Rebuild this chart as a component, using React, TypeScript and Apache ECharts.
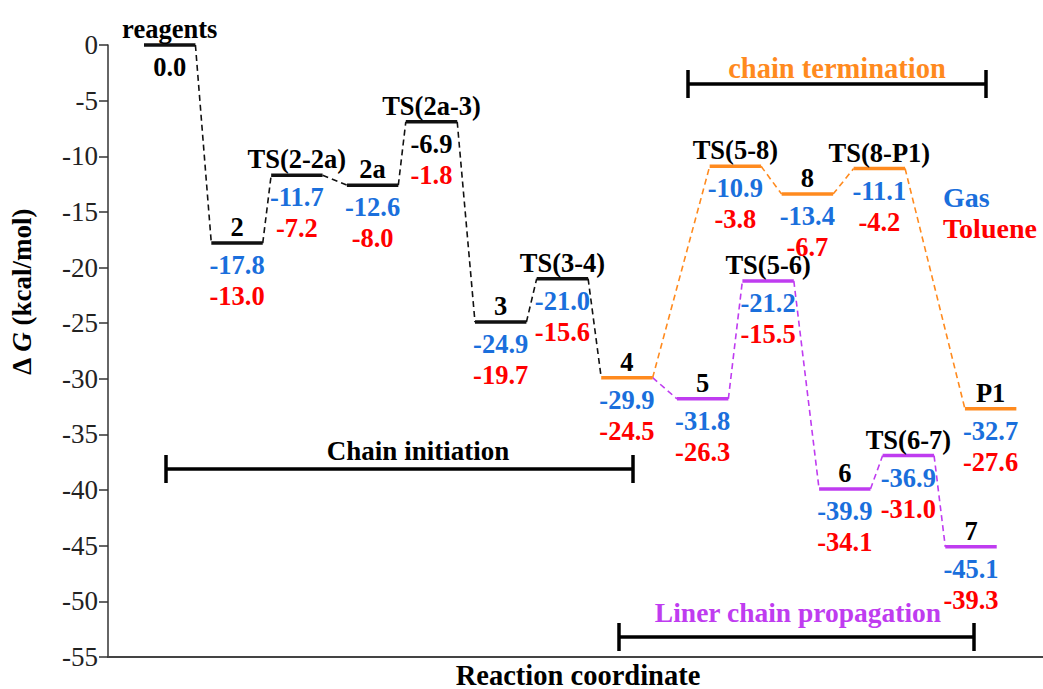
import React, { useEffect, useRef } from 'react';
import * as echarts from 'echarts';

// ---- data ----
const stateNames = ['reagents', '2', 'TS(2-2a)', '2a', 'TS(2a-3)', '3', 'TS(3-4)', '4', '5', 'TS(5-8)', 'TS(5-6)', '8', '6', 'TS(8-P1)', 'TS(6-7)', '7', 'P1'];
const reactionCoord = [6.6, 13.8, 20.2, 28.3, 34.6, 42.0, 48.6, 55.5, 63.6, 67.1, 70.6, 74.8, 78.8, 82.5, 85.6, 92.3, 94.4];
const gasDG = [0.0, -17.8, -11.7, -12.6, -6.9, -24.9, -21.0, -29.9, -31.8, -10.9, -21.2, -13.4, -39.9, -11.1, -36.9, -45.1, -32.7];
const tolueneDG: (number | null)[] = [null, -13.0, -7.2, -8.0, -1.8, -19.7, -15.6, -24.5, -26.3, -3.8, -15.5, -6.7, -34.1, -4.2, -31.0, -39.3, -27.6];
const statePathway = ['init', 'init', 'init', 'init', 'init', 'init', 'init', 'term', 'prop', 'term', 'prop', 'term', 'prop', 'term', 'prop', 'prop', 'term'];
const edges: [string, string, string][] = [
  ['reagents', '2', 'init'], ['2', 'TS(2-2a)', 'init'], ['TS(2-2a)', '2a', 'init'], ['2a', 'TS(2a-3)', 'init'],
  ['TS(2a-3)', '3', 'init'], ['3', 'TS(3-4)', 'init'], ['TS(3-4)', '4', 'init'],
  ['4', 'TS(5-8)', 'term'], ['TS(5-8)', '8', 'term'], ['8', 'TS(8-P1)', 'term'], ['TS(8-P1)', 'P1', 'term'],
  ['4', '5', 'prop'], ['5', 'TS(5-6)', 'prop'], ['TS(5-6)', '6', 'prop'], ['6', 'TS(6-7)', 'prop'], ['TS(6-7)', '7', 'prop'],
];
const blackGasLabels = ['reagents', 'TS(2a-3)'];
const yTicks = { min: -55, max: 0, interval: 5 };

// ---- style ----
const FONT = 'Liberation Serif';
const COLORS: Record<string, string> = { init: '#111111', term: '#FF8A1E', prop: '#BF3CF0' };
const BLUE = '#1A6FDC';
const RED = '#FF0000';
const LEVEL_W = 5.5;
const FS = 26.5;

export default function App() {
  const ref = useRef<HTMLDivElement>(null);
  useEffect(() => {
    const chart = echarts.init(ref.current!, null, { renderer: 'svg' });
    const idx = (n: string) => stateNames.indexOf(n);
    const levelData = stateNames.map((_, i) => ({ value: [reactionCoord[i], gasDG[i], i] }));
    const edgeData = edges.map(([a, b, p]) => ({
      coords: [
        [reactionCoord[idx(a)] + LEVEL_W / 2, gasDG[idx(a)]],
        [reactionCoord[idx(b)] - LEVEL_W / 2, gasDG[idx(b)]],
      ],
      lineStyle: { color: COLORS[p] },
    }));

    const txt = (text: string, x: number, y: number, fill: string, align = 'center', size = FS) => ({
      type: 'text',
      x, y,
      style: {
        text, fill,
        fontFamily: FONT, fontSize: size, fontWeight: 'bold',
        align, verticalAlign: 'middle',
      },
    });
    const bracket = (x1: number, x2: number, y: number) => [
      { type: 'line', shape: { x1, y1: y, x2, y2: y }, style: { stroke: '#000', lineWidth: 3.5 } },
      { type: 'line', shape: { x1, y1: y - 14, x2: x1, y2: y + 14 }, style: { stroke: '#000', lineWidth: 3.5 } },
      { type: 'line', shape: { x1: x2, y1: y - 14, x2, y2: y + 14 }, style: { stroke: '#000', lineWidth: 3.5 } },
    ];

    chart.setOption({
      animation: false,
      grid: { left: 108, right: 0, top: 45, bottom: 32, containLabel: false },
      xAxis: {
        type: 'value', min: 0, max: 100,
        axisLine: { show: true, onZero: false, lineStyle: { color: '#444', width: 2 } },
        axisTick: { show: false }, axisLabel: { show: false }, splitLine: { show: false },
      },
      yAxis: {
        type: 'value', min: yTicks.min, max: yTicks.max, interval: yTicks.interval,
        axisLine: { show: true, lineStyle: { color: '#333', width: 1.5 } },
        axisTick: { show: true, inside: false, length: 9, lineStyle: { color: '#333', width: 1.5 } },
        axisLabel: { color: '#222', fontSize: 27, fontFamily: FONT, margin: 10 },
        splitLine: { show: false },
      },
      series: [
        {
          type: 'lines',
          coordinateSystem: 'cartesian2d',
          polyline: false,
          silent: true,
          lineStyle: { width: 1.6, type: [6, 4], opacity: 1 },
          data: edgeData,
          z: 1,
        },
        {
          type: 'custom',
          clip: false,
          z: 2,
          data: levelData,
          renderItem: (_params: any, api: any) => {
            const x = api.value(0);
            const e = api.value(1);
            const i = api.value(2);
            const p1 = api.coord([x - LEVEL_W / 2, e]);
            const p2 = api.coord([x + LEVEL_W / 2, e]);
            const cx = (p1[0] + p2[0]) / 2;
            const y = p1[1];
            const name = stateNames[i];
            const label = (text: string, tx: number, ty: number, fill: string) => ({
              type: 'text',
              x: tx, y: ty,
              style: {
                text, fill,
                fontFamily: FONT, fontSize: FS, fontWeight: 'bold',
                align: 'center', verticalAlign: 'middle',
              },
            });
            const children: any[] = [
              { type: 'line', shape: { x1: p1[0], y1: y, x2: p2[0], y2: y }, style: { stroke: COLORS[statePathway[i]], lineWidth: 3.5 } },
              label(name, cx, y - 16, '#000'),
              label(gasDG[i].toFixed(1), cx, y + 22, blackGasLabels.includes(name) ? '#000' : BLUE),
              ];
            const t = tolueneDG[i];
            if (t != null) children.push(label(t.toFixed(1), cx, y + 53, RED));
            return { type: 'group', children };
          },
        },
      ],
      graphic: [
        ...bracket(166, 633, 469),
        ...bracket(688, 986, 84),
        ...bracket(619, 974, 637),
        txt('Chain initiation', 418, 451, '#000', 'center', 27),
        txt('chain termination', 837, 68, '#FF8A1E', 'center', 28.5),
        txt('Liner chain propagation', 798, 612, '#BF3CF0', 'center', 27.5),
        txt('Gas', 943, 197, BLUE, 'left', 28),
        txt('Toluene', 943, 228, RED, 'left', 28),
        txt('Reaction coordinate', 578, 675, '#000', 'center', 28.5),
        {
          type: 'text',
          x: 22, y: 292,
          rotation: Math.PI / 2,
          style: {
            text: '{n|Δ }{i|G}{n| (kcal/mol)}',
            align: 'center', verticalAlign: 'middle',
            fill: '#000',
            rich: {
              n: { fontSize: 27, fontFamily: FONT, fontWeight: 'bold', fill: '#000' },
              i: { fontSize: 27, fontFamily: FONT, fontWeight: 'bold', fontStyle: 'italic', fill: '#000' },
            },
          },
        },
      ],
    });
    return () => chart.dispose();
  }, []);
  return <div ref={ref} style={{ position: 'absolute', left: 0, top: 0, width: 1043, height: 689 }} />;
}
